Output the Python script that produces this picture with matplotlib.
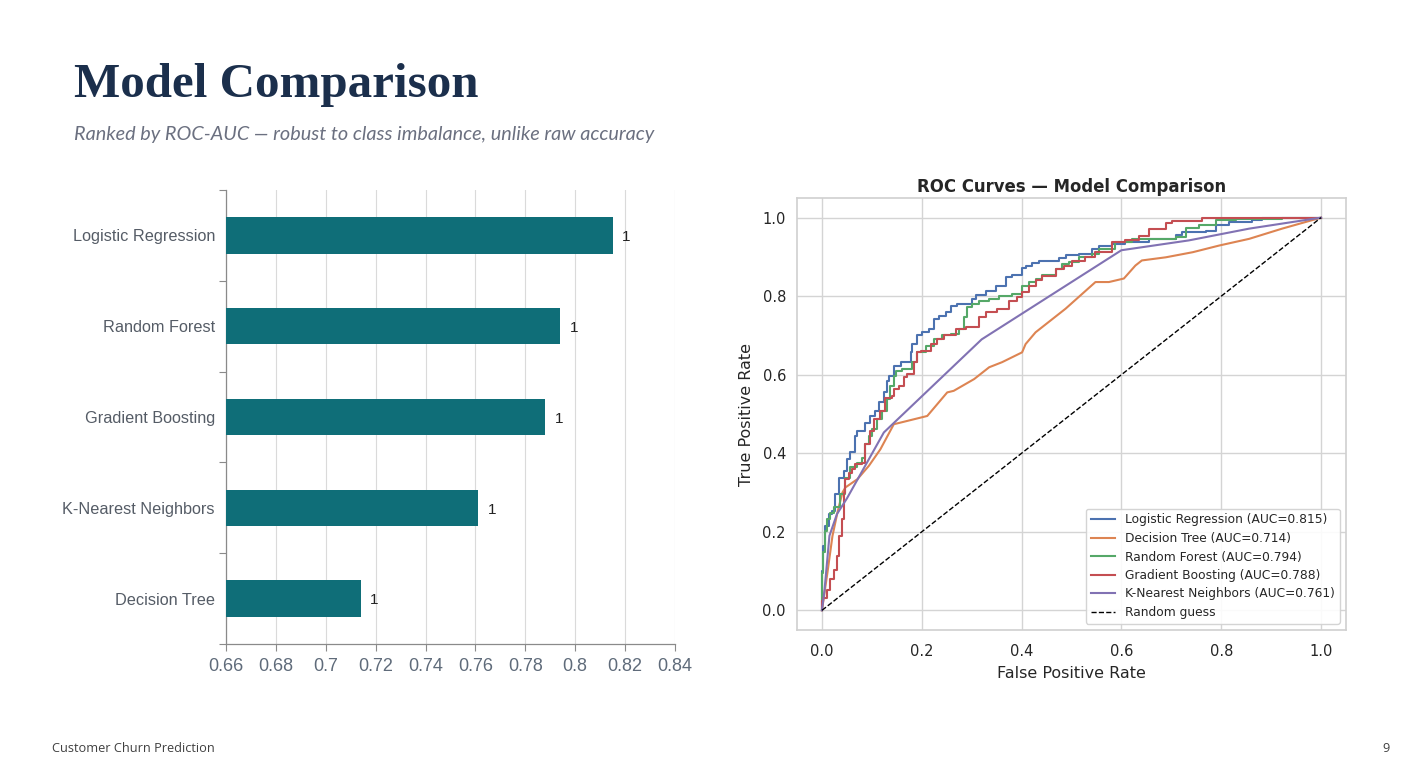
import matplotlib
matplotlib.use("Agg")
import matplotlib.pyplot as plt
import numpy as np

# ---------------- data ----------------
models_bar = ["Decision Tree", "K-Nearest Neighbors", "Gradient Boosting", "Random Forest", "Logistic Regression"]
auc_bar = [0.714, 0.761, 0.788, 0.794, 0.815]
bar_labels = ["1", "1", "1", "1", "1"]
x_ticks = [0.66, 0.68, 0.70, 0.72, 0.74, 0.76, 0.78, 0.80, 0.82, 0.84]
x_tick_labels = ["0.66", "0.68", "0.7", "0.72", "0.74", "0.76", "0.78", "0.8", "0.82", "0.84"]

lr_fpr = [0, 0.003, 0.007, 0.014, 0.021, 0.027, 0.034, 0.044, 0.050, 0.057, 0.067, 0.071, 0.087, 0.097,
          0.107, 0.114, 0.124, 0.131, 0.134, 0.144, 0.158, 0.178, 0.181, 0.191, 0.201, 0.215, 0.225, 0.235,
          0.248, 0.258, 0.271, 0.281, 0.301, 0.308, 0.328, 0.348, 0.368, 0.381, 0.401, 0.408, 0.421, 0.435,
          0.475, 0.488, 0.515, 0.542, 0.555, 0.582, 0.608, 0.655, 0.709, 0.722, 0.769, 0.789, 0.816, 0.829,
          0.862, 0.882, 0.922, 1.0]
lr_tpr = [0, 0.10, 0.164, 0.215, 0.245, 0.253, 0.296, 0.338, 0.355, 0.385, 0.402, 0.445, 0.457, 0.478,
          0.495, 0.508, 0.530, 0.555, 0.585, 0.598, 0.623, 0.632, 0.657, 0.678, 0.700, 0.708, 0.717, 0.742,
          0.749, 0.759, 0.774, 0.780, 0.780, 0.793, 0.803, 0.814, 0.827, 0.848, 0.853, 0.871, 0.878, 0.884,
          0.889, 0.897, 0.904, 0.908, 0.920, 0.929, 0.934, 0.938, 0.946, 0.956, 0.963, 0.967, 0.980, 0.990,
          0.990, 0.995, 0.999, 1.0]

dt_fpr = [0, 0.011, 0.021, 0.031, 0.041, 0.047, 0.071, 0.094, 0.117, 0.144, 0.157, 0.211, 0.251, 0.264,
          0.305, 0.335, 0.361, 0.401, 0.408, 0.428, 0.488, 0.548, 0.575, 0.605, 0.628, 0.641, 0.689, 0.743,
          0.796, 0.856, 0.922, 1.0]
dt_tpr = [0, 0.096, 0.189, 0.249, 0.300, 0.313, 0.334, 0.368, 0.410, 0.474, 0.478, 0.495, 0.555, 0.559,
          0.589, 0.619, 0.632, 0.657, 0.678, 0.708, 0.768, 0.836, 0.836, 0.845, 0.878, 0.891, 0.899, 0.912,
          0.929, 0.946, 0.972, 1.0]

rf_fpr = [0, 0.003, 0.007, 0.011, 0.017, 0.024, 0.037, 0.047, 0.057, 0.071, 0.081, 0.087, 0.094, 0.101,
          0.111, 0.121, 0.131, 0.137, 0.144, 0.148, 0.161, 0.181, 0.191, 0.208, 0.225, 0.241, 0.258, 0.275,
          0.285, 0.291, 0.301, 0.315, 0.335, 0.355, 0.381, 0.401, 0.415, 0.428, 0.441, 0.468, 0.481, 0.495,
          0.515, 0.542, 0.555, 0.588, 0.621, 0.709, 0.729, 0.756, 0.789, 0.829, 0.922, 1.0]
rf_tpr = [0, 0.096, 0.148, 0.202, 0.232, 0.249, 0.262, 0.296, 0.338, 0.364, 0.376, 0.389, 0.423, 0.445,
          0.462, 0.487, 0.508, 0.538, 0.572, 0.598, 0.610, 0.615, 0.632, 0.657, 0.674, 0.691, 0.700, 0.704,
          0.717, 0.746, 0.772, 0.780, 0.789, 0.793, 0.801, 0.805, 0.827, 0.835, 0.844, 0.853, 0.869, 0.882,
          0.887, 0.900, 0.908, 0.920, 0.938, 0.946, 0.950, 0.974, 0.980, 0.995, 0.997, 1.0]

gb_fpr = [0, 0.003, 0.011, 0.017, 0.024, 0.031, 0.034, 0.041, 0.044, 0.047, 0.054, 0.061, 0.067, 0.081,
          0.087, 0.097, 0.104, 0.117, 0.127, 0.141, 0.144, 0.154, 0.164, 0.171, 0.184, 0.191, 0.198, 0.218,
          0.231, 0.245, 0.268, 0.288, 0.315, 0.328, 0.351, 0.375, 0.391, 0.401, 0.415, 0.428, 0.441, 0.468,
          0.485, 0.501, 0.528, 0.548, 0.582, 0.608, 0.635, 0.655, 0.689, 0.702, 0.762, 0.826, 1.0]
gb_tpr = [0, 0.024, 0.032, 0.053, 0.079, 0.104, 0.138, 0.189, 0.232, 0.300, 0.334, 0.351, 0.359, 0.372,
          0.376, 0.423, 0.457, 0.487, 0.508, 0.542, 0.547, 0.564, 0.572, 0.593, 0.602, 0.632, 0.657, 0.661,
          0.678, 0.691, 0.700, 0.717, 0.721, 0.746, 0.759, 0.768, 0.789, 0.797, 0.810, 0.827, 0.840, 0.851,
          0.869, 0.878, 0.889, 0.900, 0.912, 0.938, 0.942, 0.954, 0.971, 0.986, 0.991, 0.999, 1.0]

knn_fpr = [0, 0.005, 0.015, 0.030, 0.050, 0.124, 0.320, 0.600, 0.735, 0.856, 1.0]
knn_tpr = [0, 0.050, 0.190, 0.245, 0.285, 0.453, 0.690, 0.917, 0.942, 0.972, 1.0]

roc_names = ["Logistic Regression", "Decision Tree", "Random Forest", "Gradient Boosting", "K-Nearest Neighbors"]
roc_aucs = [0.815, 0.714, 0.794, 0.788, 0.761]

# ---------------- figure ----------------
W, H = 1401, 777
fig = plt.figure(figsize=(W / 100, H / 100), dpi=100)
fig.patch.set_facecolor("white")

def fx(px):
    return px / W

def fy(py):
    return 1 - py / H

# Title / subtitle
fig.text(fx(74), fy(97), "Model Comparison", family="Liberation Serif", weight="bold",
         fontsize=35.3, color="#1b2f4c", va="baseline", ha="left")
fig.text(fx(74), fy(140), "Ranked by ROC-AUC \u2014 robust to class imbalance, unlike raw accuracy",
         family="Lato", style="italic", fontsize=14.3, color="#6b7080", va="baseline", ha="left")

# Footer
fig.text(fx(52), fy(748), "Customer Churn Prediction", family="Open Sans", fontsize=9.2,
         color="#404040", va="center", ha="left")
fig.text(fx(1390), fy(748), "9", family="Open Sans", fontsize=9.2, color="#404040", va="center", ha="right")

# ---------------- left bar chart ----------------
ax1 = fig.add_axes([fx(226), fy(644), fx(675) - fx(226), fy(190) - fy(644)])
ypos = np.arange(len(models_bar))
ax1.barh(ypos, auc_bar, height=0.4, color="#0f6e78", left=0, zorder=3)
ax1.set_xlim(0.66, 0.84)
ax1.set_ylim(-0.5, len(models_bar) - 0.5)
for y, v, lab in zip(ypos, auc_bar, bar_labels):
    ax1.text(v + 0.0038, y - 0.02, lab, va="center", ha="left", fontsize=11,
             family="Liberation Sans", color="#222222")
ax1.set_xticks(x_ticks)
ax1.set_xticklabels(x_tick_labels, family="Liberation Sans", fontsize=13, color="#5f6b7a")
ax1.set_yticks(np.arange(-0.5, len(models_bar), 1.0))
ax1.set_yticklabels([])
ax1.set_yticks(ypos, minor=True)
ax1.set_yticklabels(models_bar, minor=True, family="Liberation Sans", fontsize=11.7, color="#555c66")
ax1.tick_params(axis="y", which="minor", length=0, pad=8)
ax1.tick_params(axis="y", which="major", length=5, color="#8a8a8a", width=0.8)
ax1.tick_params(axis="x", which="major", length=5, color="#8a8a8a", width=0.8, pad=5)
ax1.grid(axis="x", color="#dadada", linewidth=0.8, zorder=0)
ax1.set_axisbelow(True)
for s in ["top", "right"]:
    ax1.spines[s].set_visible(False)
for s in ["left", "bottom"]:
    ax1.spines[s].set_color("#8a8a8a")
    ax1.spines[s].set_linewidth(0.9)

# ---------------- right ROC chart ----------------
ax2 = fig.add_axes([fx(797), fy(630), fx(1346) - fx(797), fy(198) - fy(630)])
palette = ["#4c72b0", "#dd8452", "#55a868", "#c44e52", "#8172b3"]
curves = [(lr_fpr, lr_tpr, "steps-pre"), (dt_fpr, dt_tpr, "default"), (rf_fpr, rf_tpr, "steps-pre"),
          (gb_fpr, gb_tpr, "steps-pre"), (knn_fpr, knn_tpr, "default")]
for (xs, ys, ds), name, auc, col in zip(curves, roc_names, roc_aucs, palette):
    ax2.plot(xs, ys, color=col, lw=1.5, drawstyle=ds, label=f"{name} (AUC={auc:.3f})")
ax2.plot([0, 1], [0, 1], "k--", lw=1.0, label="Random guess")
ax2.set_xlim(-0.05, 1.05)
ax2.set_ylim(-0.05, 1.05)
ax2.set_xticks([0, 0.2, 0.4, 0.6, 0.8, 1.0])
ax2.set_yticks([0, 0.2, 0.4, 0.6, 0.8, 1.0])
ax2.tick_params(labelsize=10.5, colors="#262626", length=0, pad=8)
ax2.tick_params(axis="x", pad=10)
ax2.grid(True, color="#d4d4d4", linewidth=1.0)
ax2.set_axisbelow(True)
for s in ax2.spines.values():
    s.set_color("#d0d0d0")
    s.set_linewidth(1.2)
ax2.set_xlabel("False Positive Rate", fontsize=11.5, color="#262626", labelpad=5)
ax2.set_ylabel("True Positive Rate", fontsize=11.5, color="#262626", labelpad=6)
ax2.set_title("ROC Curves \u2014 Model Comparison", fontsize=11.9, weight="bold", color="#262626", pad=4)
leg = ax2.legend(loc="lower right", fontsize=8.8, frameon=True, framealpha=0.9, edgecolor="#d0d0d0",
                 labelspacing=0.45)
for t in leg.get_texts():
    t.set_color("#262626")

fig.savefig("out.png", dpi=100, facecolor="white")
